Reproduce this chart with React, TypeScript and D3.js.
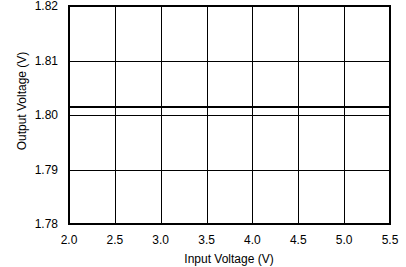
import React from "react";
import * as d3 from "d3";

const inputV = [2.0, 2.5, 3.0, 3.5, 4.0, 4.5, 5.0, 5.5];
const outputV = [1.8015, 1.8015, 1.8015, 1.8015, 1.8015, 1.8015, 1.8015, 1.8015];
const xTicks = [2.0, 2.5, 3.0, 3.5, 4.0, 4.5, 5.0, 5.5];
const yTicks = [1.78, 1.79, 1.8, 1.81, 1.82];

const W = 406, H = 267;
const L = 69, R = 390, T = 6, B = 224;

const snap = (v: number) => Math.round(v) + 0.5;

export default function App() {
  const x = d3.scaleLinear().domain([2.0, 5.5]).range([L, R]);
  const y = d3.scaleLinear().domain([1.78, 1.82]).range([B, T]);
  const line = d3.line<number>().x((_, i) => x(inputV[i])).y((d) => Math.round(y(d)));
  const font = "'Liberation Sans', Arial, sans-serif";
  return (
    <svg width={W} height={H} style={{ position: "absolute", left: 0, top: 0 }}>
      <rect width={W} height={H} fill="#fff" />
      {xTicks.slice(1, -1).map((t) => (
        <line key={"gx" + t} x1={snap(x(t))} x2={snap(x(t))} y1={T} y2={B} stroke="#000" strokeWidth={1} shapeRendering="crispEdges" />
      ))}
      {yTicks.slice(1, -1).map((t) => (
        <line key={"gy" + t} x1={L} x2={R} y1={snap(y(t))} y2={snap(y(t))} stroke="#000" strokeWidth={1} shapeRendering="crispEdges" />
      ))}
      <path d={line(outputV) || ""} fill="none" stroke="#000" strokeWidth={2} shapeRendering="crispEdges" />
      <rect x={L} y={T} width={R - L} height={B - T} fill="none" stroke="#000" strokeWidth={2} shapeRendering="crispEdges" />
      {xTicks.map((t) => (
        <text key={"tx" + t} x={x(t)} y={244} textAnchor="middle" fontFamily={font} fontSize={12} fill="#000">
          {t.toFixed(1)}
        </text>
      ))}
      {yTicks.map((t) => (
        <text key={"ty" + t} x={58} y={y(t) + 4} textAnchor="end" fontFamily={font} fontSize={12} fill="#000">
          {t.toFixed(2)}
        </text>
      ))}
      <text x={229} y={263} textAnchor="middle" fontFamily={font} fontSize={12} fill="#000">
        Input Voltage (V)
      </text>
      <text transform={`translate(26,${101}) rotate(-90)`} textAnchor="middle" fontFamily={font} fontSize={12} fill="#000">
        Output Voltage (V)
      </text>
    </svg>
  );
}
